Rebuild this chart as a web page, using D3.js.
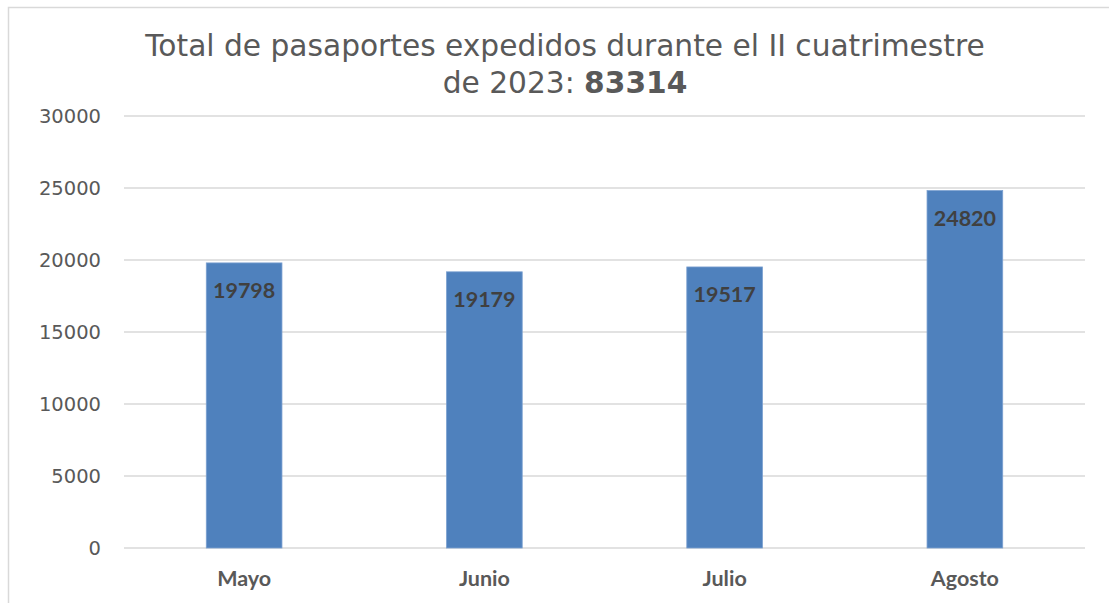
<!DOCTYPE html>
<html>
<head>
<meta charset="utf-8">
<script src="https://cdn.jsdelivr.net/npm/d3@7"></script>
<style>
  html, body { margin: 0; padding: 0; background: #fff; }
</style>
</head>
<body>
<div id="chart"></div>
<script>
// chart data
const months = ['Mayo', 'Junio', 'Julio', 'Agosto'];
const passports = [19798, 19179, 19517, 24820];
const yTicks = [0, 5000, 10000, 15000, 20000, 25000, 30000];
const titleLine1 = 'Total de pasaportes expedidos durante el II cuatrimestre';
const titleLine2 = 'de 2023: ';
const titleTotal = '83314';

const width = 1109, height = 603;
const margin = {top: 116, right: 24, bottom: 55, left: 124};

const svg = d3.select('#chart').append('svg')
  .attr('width', width)
  .attr('height', height);

// outer chart border (only left/top visible)
svg.append('path')
  .attr('d', 'M8.5,' + height + 'V7.5H' + width)
  .attr('fill', 'none')
  .attr('stroke', '#d9d9d9')
  .attr('stroke-width', 1.5);

const x = d3.scaleBand()
  .domain(months)
  .range([margin.left, width - margin.right])
  .paddingInner(0.685)
  .paddingOuter(0.3425);

const y = d3.scaleLinear()
  .domain([0, 30000])
  .range([height - margin.bottom, margin.top]);

// gridlines
svg.append('g')
  .selectAll('line')
  .data(yTicks)
  .enter()
  .append('line')
  .attr('x1', margin.left)
  .attr('x2', width - margin.right)
  .attr('y1', d => y(d))
  .attr('y2', d => y(d))
  .attr('stroke', '#d9d9d9')
  .attr('stroke-width', 1.5);

// y axis labels
const yAxis = svg.append('g')
  .attr('transform', 'translate(' + (margin.left - 23) + ',0)')
  .call(d3.axisLeft(y).tickValues(yTicks).tickSize(0).tickPadding(0).tickFormat(d3.format('d')));
yAxis.select('.domain').remove();
yAxis.selectAll('text')
  .attr('font-family', 'DejaVu Sans, Verdana, sans-serif')
  .attr('font-size', 19.5)
  .attr('fill', '#595959');

// bars
svg.append('g')
  .selectAll('rect')
  .data(passports)
  .enter()
  .append('rect')
  .attr('x', (d, i) => x(months[i]))
  .attr('y', d => y(d))
  .attr('width', x.bandwidth())
  .attr('height', d => y(0) - y(d))
  .attr('fill', '#4f81bd')
  .attr('stroke', '#7ba0d0')
  .attr('stroke-width', 0.8);

// data labels (inside end)
svg.append('g')
  .selectAll('text')
  .data(passports)
  .enter()
  .append('text')
  .attr('x', (d, i) => x(months[i]) + x.bandwidth() / 2)
  .attr('y', d => y(d) + 35)
  .attr('text-anchor', 'middle')
  .attr('font-family', 'Lato, Open Sans, sans-serif')
  .attr('font-weight', 'bold')
  .attr('font-size', 21.5)
  .attr('fill', '#404040')
  .text(d => d);

// x axis labels
const xAxis = svg.append('g')
  .attr('transform', 'translate(0,' + (height - margin.bottom) + ')')
  .call(d3.axisBottom(x).tickSize(0).tickPadding(23));
xAxis.select('.domain').remove();
xAxis.selectAll('text')
  .attr('font-family', 'Lato, Open Sans, sans-serif')
  .attr('font-weight', 'bold')
  .attr('font-size', 21.5)
  .attr('fill', '#595959');

// title, squeezed horizontally like the original
const cx = 565;
const title = svg.append('g');
const t1 = title.append('text')
  .attr('x', cx)
  .attr('y', 56.5)
  .attr('text-anchor', 'middle')
  .attr('font-family', 'DejaVu Sans, Verdana, sans-serif')
  .attr('font-size', 31)
  .attr('fill', '#595959')
  .text(titleLine1);
const t2 = title.append('text')
  .attr('x', cx)
  .attr('y', 93)
  .attr('text-anchor', 'middle')
  .attr('font-family', 'DejaVu Sans, Verdana, sans-serif')
  .attr('font-size', 31)
  .attr('fill', '#595959');
t2.append('tspan').text(titleLine2);
t2.append('tspan').attr('font-weight', 'bold').text(titleTotal);

const k = 840 / t1.node().getComputedTextLength();
title.attr('transform', 'translate(' + cx + ',0) scale(' + k + ',1) translate(' + (-cx) + ',0)');
</script>
</body>
</html>
